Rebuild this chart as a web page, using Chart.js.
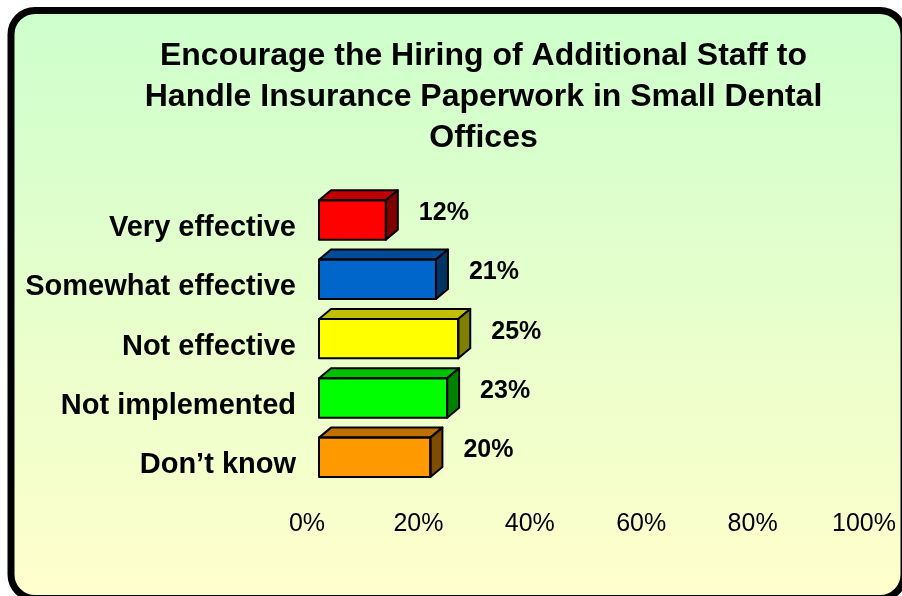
<!DOCTYPE html>
<html>
<head>
<meta charset="utf-8">
<title>Encourage the Hiring of Additional Staff</title>
<script src="https://cdn.jsdelivr.net/npm/chart.js@4.4.0/dist/chart.umd.min.js"></script>
<style>
  html, body { margin: 0; padding: 0; background: #fff; }
  canvas { display: block; }
</style>
</head>
<body>
<canvas id="chart" width="902" height="596"></canvas>
<script>
const titleLines = [
  "Encourage the Hiring of Additional Staff to",
  "Handle Insurance Paperwork in Small Dental",
  "Offices",
];
const categories = [
  "Very effective",
  "Somewhat effective",
  "Not effective",
  "Not implemented",
  "Don\u2019t know",
];
const values = [12, 21, 25, 23, 20];
const frontColors = ["#ff0000", "#0066cc", "#ffff00", "#00ff00", "#ff9900"];
const topColors = ["#c00000", "#004c99", "#c0c000", "#00c000", "#c07000"];
const sideColors = ["#800000", "#003366", "#808000", "#008000", "#804c00"];
const xTicks = [0, 20, 40, 60, 80, 100];

const FONT = "'Liberation Sans', Arial, sans-serif";
const DEPTH_X = 12;
const DEPTH_Y = 10;

// background panel with rounded black frame
const panelPlugin = {
  id: "panel",
  afterLayout(chart) {
    // the title is centred a bit right of the canvas middle
    chart.titleBlock.left = 91;
  },
  beforeDraw(chart) {
    const ctx = chart.ctx;
    ctx.save();
    ctx.fillStyle = "#ffffff";
    ctx.fillRect(0, 0, chart.width, chart.height);
    const x = 11, y = 10.5, w = 893, h = 588, r = 24;
    ctx.beginPath();
    ctx.roundRect(x, y, w, h, r);
    const grad = ctx.createLinearGradient(0, 0, 0, chart.height);
    grad.addColorStop(0, "#ccffcc");
    grad.addColorStop(1, "#ffffcc");
    ctx.fillStyle = grad;
    ctx.fill();
    ctx.lineWidth = 7;
    ctx.strokeStyle = "#000000";
    ctx.stroke();
    ctx.restore();
  },
};

// top and side faces of each bar, plus the value label
const boxPlugin = {
  id: "box3d",
  afterDatasetsDraw(chart) {
    const ctx = chart.ctx;
    const meta = chart.getDatasetMeta(0);
    ctx.save();
    ctx.lineWidth = 2;
    ctx.lineJoin = "round";
    ctx.strokeStyle = "#000000";
    meta.data.forEach((bar, i) => {
      const p = bar.getProps(["x", "y", "base", "height"], true);
      const top = p.y - p.height / 2;
      const bottom = p.y + p.height / 2;

      ctx.beginPath();
      ctx.moveTo(p.base, top);
      ctx.lineTo(p.base + DEPTH_X, top - DEPTH_Y);
      ctx.lineTo(p.x + DEPTH_X, top - DEPTH_Y);
      ctx.lineTo(p.x, top);
      ctx.closePath();
      ctx.fillStyle = topColors[i];
      ctx.fill();
      ctx.stroke();

      ctx.beginPath();
      ctx.moveTo(p.x, top);
      ctx.lineTo(p.x + DEPTH_X, top - DEPTH_Y);
      ctx.lineTo(p.x + DEPTH_X, bottom - DEPTH_Y);
      ctx.lineTo(p.x, bottom);
      ctx.closePath();
      ctx.fillStyle = sideColors[i];
      ctx.fill();
      ctx.stroke();

      ctx.beginPath();
      ctx.rect(p.base, top, p.x - p.base, p.height);
      ctx.stroke();

      ctx.fillStyle = "#000000";
      ctx.font = "bold 25px " + FONT;
      ctx.textAlign = "left";
      ctx.textBaseline = "middle";
      ctx.fillText(values[i] + "%", p.x + 33, p.y - 7);
    });
    ctx.restore();
  },
};

new Chart(document.getElementById("chart"), {
  type: "bar",
  data: {
    labels: categories,
    datasets: [
      {
        data: values,
        backgroundColor: frontColors,
        borderColor: "#000000",
        borderWidth: 0,
        borderSkipped: false,
        categoryPercentage: 1,
        barPercentage: 0.664,
      },
    ],
  },
  options: {
    indexAxis: "y",
    responsive: false,
    animation: false,
    layout: { padding: { top: 10, left: 10, right: 26, bottom: 35 } },
    plugins: {
      legend: { display: false },
      tooltip: { enabled: false },
      title: {
        display: true,
        text: titleLines,
        color: "#000000",
        font: { family: FONT, size: 32, weight: "bold", lineHeight: "41px" },
        padding: { top: 26, bottom: 31.25 },
      },
    },
    scales: {
      x: {
        type: "linear",
        min: 0,
        max: 100,
        afterBuildTicks: (s) => {
          s.ticks = xTicks.map((v) => ({ value: v }));
        },
        afterFit: (s) => {
          s.paddingLeft = 0;
          s.paddingRight = 0;
        },
        grid: { display: false, drawTicks: false },
        border: { display: false },
        ticks: {
          color: "#000000",
          font: { family: FONT, size: 25 },
          padding: 22,
          labelOffset: -12,
          maxRotation: 0,
          callback: (v) => v + "%",
        },
      },
      y: {
        afterFit: (s) => {
          s.width = 309;
          s.paddingTop = 0;
          s.paddingBottom = 0;
        },
        grid: { display: false, drawTicks: false },
        border: { display: false },
        ticks: {
          color: "#000000",
          font: { family: FONT, size: 29, weight: "bold" },
          padding: 23,
          labelOffset: 8,
        },
      },
    },
  },
  plugins: [panelPlugin, boxPlugin],
});
</script>
</body>
</html>
